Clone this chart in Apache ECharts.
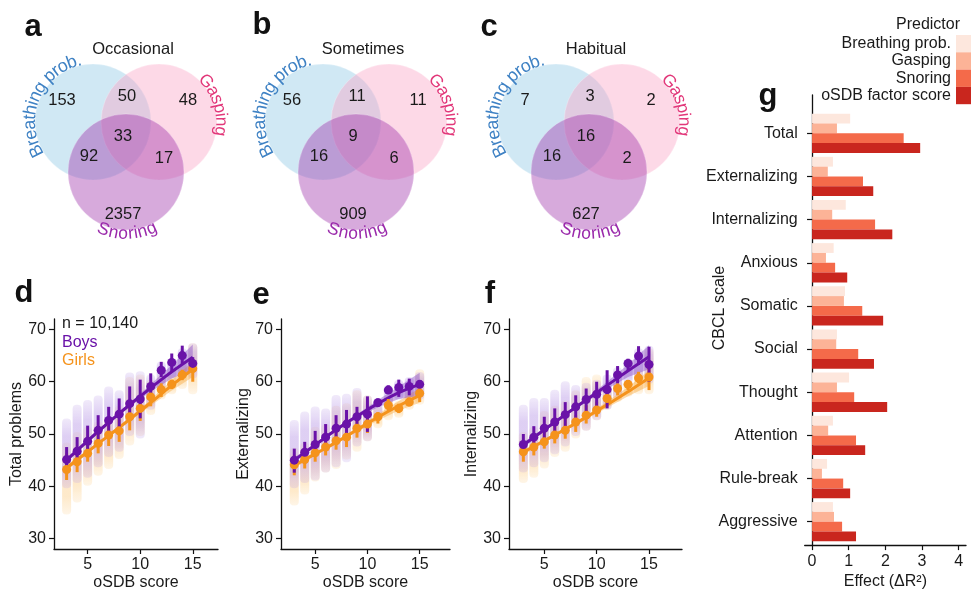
<!DOCTYPE html>
<html><head><meta charset="utf-8">
<script src="https://cdn.jsdelivr.net/npm/echarts@6/dist/echarts.min.js"></script>
<style>html,body{margin:0;padding:0;background:#fff}#c{width:971px;height:595px}</style>
</head><body><div id="c"></div>
<script>
// ---------------- DATA ----------------
// Venn counts: [Breathing only, Breathing∩Gasping, Gasping only, all three, Breathing∩Snoring, Gasping∩Snoring, Snoring only]
const vennTitles = ['Occasional', 'Sometimes', 'Habitual'];
const vennOccasional = [153, 50, 48, 33, 92, 17, 2357];
const vennSometimes = [56, 11, 11, 9, 16, 6, 909];
const vennHabitual = [7, 3, 2, 16, 16, 2, 627];
const vennSetNames = ['Breathing prob.', 'Gasping', 'Snoring'];

// oSDB score bins
const scores = [3, 4, 5, 6, 7, 8, 9, 10, 11, 12, 13, 14, 15];
const fitX = [3, 5, 7, 9, 11, 13, 15];

// Total problems
const totBoysMean = [45.1, 46.7, 48.6, 50.7, 52.6, 53.8, 55.8, 56.7, 59.1, 62.2, 63.7, 65.0, 63.5];
const totBoysLo   = [42.7, 44.5, 45.7, 47.9, 49.4, 50.4, 52.6, 53.0, 56.5, 60.9, 62.0, 63.2, 62.3];
const totBoysHi   = [47.5, 49.4, 51.6, 53.6, 55.2, 56.8, 59.1, 60.4, 61.6, 63.8, 65.4, 66.9, 64.7];
const totGirlsMean = [43.2, 44.7, 46.3, 48.2, 49.8, 50.6, 53.3, 54.9, 57.1, 58.5, 59.5, 61.3, 62.5];
const totGirlsLo   = [41.2, 42.7, 44.7, 46.3, 47.7, 48.5, 50.7, 52.5, 55.3, 57.1, 58.6, 60.3, 60.0];
const totGirlsHi   = [46.3, 47.5, 49.4, 51.0, 52.3, 52.8, 55.5, 57.3, 58.9, 59.7, 60.4, 62.3, 64.4];
const totBoysFit   = [45.0, 48.7, 52.2, 55.6, 58.8, 61.9, 64.7];
const totBoysFitLo = [44.5, 48.35, 51.9, 55.2, 58.1, 60.6, 62.3];
const totBoysFitHi = [45.5, 49.05, 52.5, 56.0, 59.5, 63.2, 67.1];
const totGirlsFit   = [43.5, 46.6, 49.7, 52.8, 56.0, 59.3, 62.4];
const totGirlsFitLo = [43.0, 46.25, 49.4, 52.4, 55.4, 58.3, 60.9];
const totGirlsFitHi = [44.0, 46.95, 50.0, 53.2, 56.6, 60.3, 63.9];
const totBoysCloudLo  = [40, 41, 42, 44, 46, 47, 50, 49.5, 55, 59, 61, 62, 61];
const totBoysCloudHi  = [52.6, 55.2, 56.1, 57, 58.7, 58, 61.4, 61.6, 61, 63.5, 64, 66, 67];
const totGirlsCloudLo = [35, 37.3, 40.5, 42.4, 43.7, 45.6, 48.2, 50, 54, 57, 58, 59, 58];
const totGirlsCloudHi = [48, 50, 51, 52, 53, 55, 60.5, 61, 60, 61, 61, 63, 67];

// Externalizing
const extBoysMean = [45.0, 46.5, 48.0, 49.4, 51.1, 51.9, 53.3, 53.8, 56.0, 58.4, 58.9, 59.1, 59.5];
const extBoysLo   = [42.6, 44.4, 45.6, 46.9, 48.2, 49.4, 51.4, 50.4, 55.2, 57.8, 57.1, 57.4, 58.8];
const extBoysHi   = [47.2, 48.5, 50.6, 51.9, 53.6, 54.6, 55.2, 57.2, 56.8, 59.3, 60.4, 60.6, 60.2];
const extGirlsMean = [44.1, 45.1, 46.4, 47.5, 48.7, 49.4, 51.1, 51.9, 53.3, 55.5, 54.9, 56.1, 57.8];
const extGirlsLo   = [42.1, 43.4, 44.7, 45.9, 47.0, 47.5, 49.3, 50.2, 52.0, 54.2, 54.0, 55.3, 56.1];
const extGirlsHi   = [45.9, 46.9, 47.5, 49.3, 50.5, 50.7, 53.0, 53.7, 54.2, 56.7, 55.8, 57.0, 59.0];
const extBoysFit   = [45.0, 47.9, 50.8, 53.4, 55.8, 57.9, 59.5];
const extBoysFitLo = [44.5, 47.55, 50.5, 53.0, 55.1, 56.7, 57.3];
const extBoysFitHi = [45.5, 48.25, 51.1, 53.8, 56.5, 59.1, 61.7];
const extGirlsFit   = [44.0, 46.2, 48.4, 50.8, 53.2, 55.4, 57.4];
const extGirlsFitLo = [43.5, 45.85, 48.1, 50.4, 52.6, 54.5, 56.0];
const extGirlsFitHi = [44.5, 46.55, 48.7, 51.2, 53.8, 56.3, 58.8];
const extBoysCloudLo  = [40, 41, 41.5, 43, 44, 45, 48, 49, 53, 56, 57, 57, 57];
const extBoysCloudHi  = [52.3, 53.9, 54.9, 54.5, 57.1, 57.3, 58.4, 57, 56.5, 59, 60, 60.5, 61.5];
const extGirlsCloudLo = [36.7, 38.8, 41.3, 43, 43.7, 45.5, 47, 49, 51.5, 53, 53.5, 55, 56];
const extGirlsCloudHi = [47, 48, 51, 51.5, 55, 55.5, 58, 57, 55, 57, 56, 58, 62];

// Internalizing
const intBoysMean = [48.0, 49.4, 51.1, 52.3, 53.7, 55.2, 56.6, 57.6, 58.5, 61.3, 63.5, 64.9, 63.3];
const intBoysLo   = [45.9, 47.5, 48.9, 49.8, 51.4, 53.0, 54.2, 54.9, 54.9, 59.7, 62.2, 63.2, 60.0];
const intBoysHi   = [50.0, 51.5, 53.3, 54.9, 56.1, 57.4, 58.7, 60.0, 62.2, 63.0, 64.4, 66.8, 66.7];
const intGirlsMean = [46.6, 47.5, 48.5, 49.8, 50.7, 52.3, 53.6, 54.6, 56.8, 58.7, 59.5, 60.7, 60.9];
const intGirlsLo   = [44.7, 45.9, 47.2, 48.2, 49.1, 50.4, 52.0, 53.3, 55.5, 57.4, 58.4, 59.7, 58.4];
const intGirlsHi   = [48.5, 49.5, 50.4, 52.0, 53.0, 53.6, 55.5, 56.2, 57.8, 59.7, 60.3, 61.9, 63.2];
const intBoysFit   = [47.9, 50.8, 53.7, 56.5, 59.3, 62.1, 64.8];
const intBoysFitLo = [47.4, 50.45, 53.4, 56.1, 58.6, 60.9, 62.4];
const intBoysFitHi = [48.4, 51.15, 54.0, 56.9, 60.0, 63.3, 67.0];
const intGirlsFit   = [46.5, 48.7, 50.9, 53.2, 55.6, 58.1, 60.7];
const intGirlsFitLo = [46.0, 48.35, 50.6, 52.8, 55.0, 57.2, 59.2];
const intGirlsFitHi = [47.0, 49.05, 51.2, 53.6, 56.2, 59.0, 62.2];
const intBoysCloudLo  = [43, 44, 45, 46.5, 48, 50, 51, 53, 55, 57, 60, 61, 60];
const intBoysCloudHi  = [55.2, 56.5, 56.5, 58.1, 59.7, 59, 59.4, 60, 61, 62.4, 64, 66, 66.5];
const intGirlsCloudLo = [41, 42, 43.8, 46, 47, 49.5, 51, 53, 55, 56.5, 57.5, 58, 58];
const intGirlsCloudHi = [50, 51, 54, 55, 56, 58, 60.5, 61, 59, 60, 60, 62, 66];

const yTicks = [30, 40, 50, 60, 70];
const xTicks = [5, 10, 15];

// Panel g: effect (ΔR²)
const cbclScales = ['Total', 'Externalizing', 'Internalizing', 'Anxious', 'Somatic', 'Social', 'Thought', 'Attention', 'Rule-break', 'Aggressive'];
const predictors = ['Breathing prob.', 'Gasping', 'Snoring', 'oSDB factor score'];
const effBreathing = [1.04, 0.57, 0.92, 0.59, 0.90, 0.68, 1.01, 0.57, 0.41, 0.57];
const effGasping   = [0.68, 0.43, 0.55, 0.38, 0.87, 0.66, 0.68, 0.44, 0.27, 0.60];
const effSnoring   = [2.50, 1.39, 1.72, 0.63, 1.37, 1.26, 1.15, 1.20, 0.85, 0.82];
const effOSDB      = [2.95, 1.67, 2.19, 0.96, 1.94, 1.69, 2.05, 1.45, 1.04, 1.20];
const effTicks = [0, 1, 2, 3, 4];

// ---------------- STYLE / LAYOUT ----------------
const FONT = '"Liberation Sans", Arial, Helvetica, sans-serif';
const TXT = '#1a1a1a';
const BOYS = '#6a12a8', GIRLS = '#f5931c';
const BOYS_CLOUD = [190, 160, 232], GIRLS_CLOUD = [253, 212, 150];
const BOYS_BAND = 'rgba(140,80,200,0.45)', GIRLS_BAND = 'rgba(248,172,72,0.45)';
const REDS = ['#fde7dd', '#fcb397', '#f46a4a', '#c9261e'];

const chart = echarts.init(document.getElementById('c'), null, {renderer: 'canvas'});
const graphics = [];

function txt(x, y, s, opt) {
  opt = opt || {};
  graphics.push({type: 'text', x: x, y: y, rotation: opt.rot || 0, silent: true, z: 100,
    style: {text: s, fill: opt.color || TXT, font: (opt.weight || 'normal') + ' ' + (opt.size || 16) + 'px ' + FONT,
      align: opt.align || 'center', verticalAlign: opt.va || 'middle'}});
}

// ---- Venn panels ----
const measureCtx = document.createElement('canvas').getContext('2d');
function arcText(str, cx, cy, R, midDeg, dir, color, size) {
  measureCtx.font = size + 'px ' + FONT;
  const ws = Array.from(str).map(ch => measureCtx.measureText(ch).width);
  const W = ws.reduce((a, b) => a + b, 0);
  const mid = midDeg * Math.PI / 180;
  let cum = 0;
  Array.from(str).forEach((ch, i) => {
    const s = (cum + ws[i] / 2 - W / 2) / R;
    cum += ws[i];
    const th = mid + dir * s;
    const rot = dir > 0 ? -(th + Math.PI / 2) : (Math.PI / 2 - th);
    txt(cx + R * Math.cos(th), cy + R * Math.sin(th), ch, {color: color, size: size, rot: rot});
  });
}
const VR = 58;
const vennCenters = [126, 356, 589];
const vennCY = 172;
const circOff = [[-33, -50], [33, -50], [0, 0]];
const circFill = ['rgba(137,197,227,0.4)', 'rgba(250,160,194,0.4)', 'rgba(155,42,167,0.4)'];
const setColors = ['#3f82c4', '#e2387a', '#9a2aab'];
const regionOff = [[-64, -72], [1, -76], [62, -72], [-3, -36], [-37, -16], [38, -14], [-3, 42]];
[vennOccasional, vennSometimes, vennHabitual].forEach((counts, k) => {
  const cx = vennCenters[k];
  circOff.forEach((o, j) => {
    graphics.push({type: 'circle', silent: true, z: 10, shape: {cx: cx + o[0], cy: vennCY + o[1], r: VR},
      style: {fill: circFill[j], stroke: 'rgba(255,255,255,0.35)', lineWidth: 0.8}});
  });
  counts.forEach((v, j) => txt(cx + regionOff[j][0], vennCY + regionOff[j][1], String(v), {size: 16.5}));
  txt(cx + 7, 49, vennTitles[k], {size: 16.5});
  arcText(vennSetNames[0], cx + circOff[0][0], vennCY + circOff[0][1], 63, 203.5, 1, setColors[0], 18);
  arcText(vennSetNames[1], cx + circOff[1][0], vennCY + circOff[1][1], 62, -17, 1, setColors[1], 17.5);
  arcText(vennSetNames[2], cx, vennCY, 62, 89, -1, setColors[2], 17.5);
});

// panel letters
[['a', 33, 27], ['b', 262, 25], ['c', 489, 27], ['d', 24, 293], ['e', 261, 295], ['f', 490, 294], ['g', 768, 96]]
  .forEach(l => txt(l[1], l[2], l[0], {size: 31, weight: 'bold', color: '#111'}));

// d legend
txt(62, 324, 'n = 10,140', {align: 'left'});
txt(62, 343, 'Boys', {align: 'left', color: BOYS});
txt(62, 361, 'Girls', {align: 'left', color: GIRLS});

// g texts
txt(960, 25, 'Predictor', {align: 'right'});
txt(720, 308, 'CBCL scale', {rot: Math.PI / 2});

// ---- Scatter panels ----
const panels = [
  {left: 54, right: 753, xMin: 1.8, xMax: 17.4, name: 'Total problems', nameGap: 26,
   bm: totBoysMean, bl: totBoysLo, bh: totBoysHi, gm: totGirlsMean, gl: totGirlsLo, gh: totGirlsHi,
   bf: totBoysFit, bfl: totBoysFitLo, bfh: totBoysFitHi, gf: totGirlsFit, gfl: totGirlsFitLo, gfh: totGirlsFitHi,
   bcl: totBoysCloudLo, bch: totBoysCloudHi, gcl: totGirlsCloudLo, gch: totGirlsCloudHi},
  {left: 281, right: 521, xMin: 1.73, xMax: 17.9, name: 'Externalizing', nameGap: 24,
   bm: extBoysMean, bl: extBoysLo, bh: extBoysHi, gm: extGirlsMean, gl: extGirlsLo, gh: extGirlsHi,
   bf: extBoysFit, bfl: extBoysFitLo, bfh: extBoysFitHi, gf: extGirlsFit, gfl: extGirlsFitLo, gfh: extGirlsFitHi,
   bcl: extBoysCloudLo, bch: extBoysCloudHi, gcl: extGirlsCloudLo, gch: extGirlsCloudHi},
  {left: 509, right: 289, xMin: 1.63, xMax: 18.15, name: 'Internalizing', nameGap: 27,
   bm: intBoysMean, bl: intBoysLo, bh: intBoysHi, gm: intGirlsMean, gl: intGirlsLo, gh: intGirlsHi,
   bf: intBoysFit, bfl: intBoysFitLo, bfh: intBoysFitHi, gf: intGirlsFit, gfl: intGirlsFitLo, gfh: intGirlsFitHi,
   bcl: intBoysCloudLo, bch: intBoysCloudHi, gcl: intGirlsCloudLo, gch: intGirlsCloudHi}
];

const grids = [], xAxes = [], yAxes = [], series = [];
const axLine = {show: true, lineStyle: {color: '#111', width: 1.3}};
const axTickStyle = {color: '#111', width: 1.2};

function rgba(c, a) { return 'rgba(' + c[0] + ',' + c[1] + ',' + c[2] + ',' + a + ')'; }
function cloudSeries(gi, lo, hi, c) {
  const fill = {type: 'linear', x: 0, y: 0, x2: 0, y2: 1, colorStops: [
    {offset: 0, color: rgba(c, 0.22)}, {offset: 0.25, color: rgba(c, 0.5)},
    {offset: 0.75, color: rgba(c, 0.5)}, {offset: 1, color: rgba(c, 0.22)}]};
  return {type: 'custom', xAxisIndex: gi, yAxisIndex: gi, silent: true, z: 1,
    data: scores.map((x, i) => [x, lo[i], hi[i]]), encode: {x: 0, y: [1, 2]},
    renderItem: (p, api) => {
      const a = api.coord([api.value(0), api.value(2)]), b = api.coord([api.value(0), api.value(1)]);
      return {type: 'rect', shape: {x: a[0] - 4.5, y: a[1] - 2, width: 9, height: b[1] - a[1] + 4, r: 4}, style: {fill: fill}};
    }};
}
function bandSeries(gi, lo, hi, color) {
  return {type: 'custom', xAxisIndex: gi, yAxisIndex: gi, silent: true, z: 2,
    data: fitX.map((x, i) => [x, lo[i], hi[i]]), encode: {x: 0, y: [1, 2]},
    renderItem: (p, api) => {
      if (p.dataIndex !== 0) return null;
      const pts = [];
      for (let i = 0; i < fitX.length; i++) pts.push(api.coord([fitX[i], hi[i]]));
      for (let i = fitX.length - 1; i >= 0; i--) pts.push(api.coord([fitX[i], lo[i]]));
      return {type: 'polygon', shape: {points: pts}, style: {fill: color}};
    }};
}
function errSeries(gi, lo, hi, color) {
  return {type: 'custom', xAxisIndex: gi, yAxisIndex: gi, silent: true, z: 4,
    data: scores.map((x, i) => [x, lo[i], hi[i]]), encode: {x: 0, y: [1, 2]},
    renderItem: (p, api) => {
      const a = api.coord([api.value(0), api.value(2)]), b = api.coord([api.value(0), api.value(1)]);
      return {type: 'line', shape: {x1: a[0], y1: a[1], x2: b[0], y2: b[1]}, style: {stroke: color, lineWidth: 3}};
    }};
}

panels.forEach((P, gi) => {
  grids.push({left: P.left, right: P.right, top: 319, bottom: 46});
  xAxes.push({gridIndex: gi, type: 'value', min: P.xMin, max: P.xMax, splitLine: {show: false},
    axisLine: axLine, axisTick: {customValues: xTicks, length: 5, lineStyle: axTickStyle},
    axisLabel: {customValues: xTicks, fontSize: 16, color: TXT, fontFamily: FONT, margin: 8},
    name: 'oSDB score', nameLocation: 'middle', nameGap: 26, nameTextStyle: {fontSize: 16, color: TXT, fontFamily: FONT}});
  yAxes.push({gridIndex: gi, type: 'value', min: 28, max: 72, splitLine: {show: false},
    axisLine: axLine, axisTick: {customValues: yTicks, length: 5, lineStyle: axTickStyle},
    axisLabel: {customValues: yTicks, fontSize: 16, color: TXT, fontFamily: FONT, margin: 8},
    name: P.name, nameLocation: 'middle', nameGap: P.nameGap, nameTextStyle: {fontSize: 16, color: TXT, fontFamily: FONT}});
  series.push(cloudSeries(gi, P.gcl, P.gch, GIRLS_CLOUD));
  series.push(cloudSeries(gi, P.bcl, P.bch, BOYS_CLOUD));
  series.push(bandSeries(gi, P.gfl, P.gfh, GIRLS_BAND));
  series.push(bandSeries(gi, P.bfl, P.bfh, BOYS_BAND));
  series.push({type: 'line', xAxisIndex: gi, yAxisIndex: gi, smooth: true, symbol: 'none', z: 3, silent: true,
    data: fitX.map((x, i) => [x, P.gf[i]]), lineStyle: {color: GIRLS, width: 3}});
  series.push({type: 'line', xAxisIndex: gi, yAxisIndex: gi, smooth: true, symbol: 'none', z: 3, silent: true,
    data: fitX.map((x, i) => [x, P.bf[i]]), lineStyle: {color: BOYS, width: 3}});
  series.push(errSeries(gi, P.gl, P.gh, GIRLS));
  series.push(errSeries(gi, P.bl, P.bh, BOYS));
  series.push({type: 'scatter', xAxisIndex: gi, yAxisIndex: gi, symbolSize: 9, z: 5, silent: true,
    data: scores.map((x, i) => [x, P.gm[i]]), itemStyle: {color: GIRLS, opacity: 1}});
  series.push({type: 'scatter', xAxisIndex: gi, yAxisIndex: gi, symbolSize: 9, z: 5, silent: true,
    data: scores.map((x, i) => [x, P.bm[i]]), itemStyle: {color: BOYS, opacity: 1}});
});

// ---- Bar panel g ----
grids.push({left: 804.7, right: 5, top: 111.7, bottom: 51.7});
xAxes.push({gridIndex: 3, type: 'value', min: -0.2, max: 4.2, show: false});
yAxes.push({gridIndex: 3, type: 'category', data: cbclScales, inverse: true,
  axisLine: {show: false}, axisTick: {show: true, alignWithLabel: true, length: 5, lineStyle: axTickStyle},
  axisLabel: {fontSize: 16, color: TXT, fontFamily: FONT, margin: 7}, splitLine: {show: false}});
grids.push({left: 804.7, right: 5, top: 95, bottom: 46.7});
xAxes.push({gridIndex: 4, type: 'value', min: -0.2, max: 4.2, splitLine: {show: false},
  axisLine: axLine, axisTick: {customValues: effTicks, length: 5, lineStyle: axTickStyle},
  axisLabel: {customValues: effTicks, fontSize: 16, color: TXT, fontFamily: FONT, margin: 8},
  name: 'Effect (ΔR²)', nameLocation: 'middle', nameGap: 27, nameTextStyle: {fontSize: 16, color: TXT, fontFamily: FONT}});
yAxes.push({gridIndex: 4, type: 'value', min: 0, max: 1, splitLine: {show: false}, axisLine: axLine,
  axisTick: {show: false}, axisLabel: {show: false}});

[effBreathing, effGasping, effSnoring, effOSDB].forEach((d, i) => {
  series.push({type: 'bar', name: predictors[i], xAxisIndex: 3, yAxisIndex: 3, data: d,
    barGap: '0%', barCategoryGap: '9%', itemStyle: {color: REDS[i]}, silent: true});
});

chart.setOption({
  animation: false,
  textStyle: {fontFamily: FONT},
  grid: grids, xAxis: xAxes, yAxis: yAxes, series: series,
  legend: {data: predictors, orient: 'vertical', right: -4, top: 35, padding: 0, align: 'right', icon: 'rect',
    itemWidth: 19, itemHeight: 17.3, itemGap: 0, selectedMode: false,
    textStyle: {fontSize: 16, color: TXT, fontFamily: FONT}},
  graphic: graphics
});
</script></body></html>
